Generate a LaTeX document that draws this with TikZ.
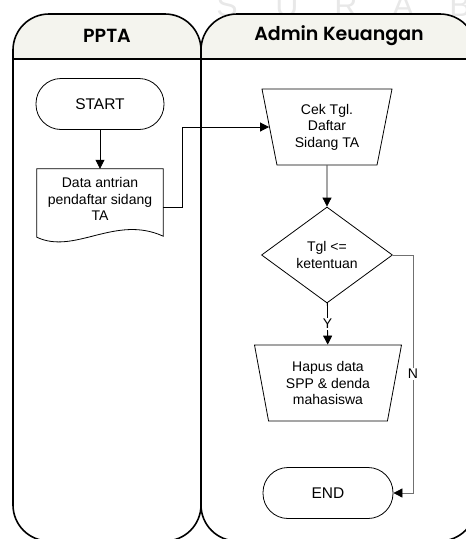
\documentclass[tikz,border=0pt]{standalone}
\usepackage{fontspec}
\setmainfont{Liberation Sans}
\newfontfamily\headfont{Poppins}[UprightFont=* SemiBold]
\newfontfamily\wmfont{Liberation Sans}
\usetikzlibrary{shapes.geometric,arrows.meta,calc}
\definecolor{headbg}{HTML}{F4F4EE}
\definecolor{wm}{HTML}{E8E8E8}
\definecolor{nline}{HTML}{707070}
\begin{document}
\begin{tikzpicture}[x=1pt,y=-1pt,
 lane/.style={line width=1.6pt, rounded corners=36pt},
 txt/.style={font=\fontsize{14}{16.5}\selectfont, align=center},
 term/.style={align=center, font=\fontsize{15.5}{18}\selectfont, draw, line width=0.8pt, rounded corners=25pt, minimum width=128pt, minimum height=51pt},
 manual/.style={txt, draw, line width=0.8pt, trapezium, shape border rotate=180, trapezium left angle=72, trapezium right angle=72, trapezium stretches body, minimum height=76pt, inner sep=0pt},
 decision/.style={txt, draw, diamond, line width=0.8pt, minimum width=131pt, minimum height=96pt, inner sep=0pt},
 conn/.style={line width=0.8pt, -{Triangle[length=9pt,width=9pt,color=black]}},
 lbl/.style={txt, fill=white, inner sep=1pt},
 head/.style={font=\headfont\fontsize{19}{22}\selectfont},
 wmark/.style={font=\wmfont\fontsize{32}{32}\selectfont, text=wm, anchor=base}
]
\useasboundingbox (0,0) rectangle (466,539);
% watermark
\node[wmark] (w1) at (227,16) {S};
\node[wmark] (w2) at (287,16) {U};
\node[wmark] (w3) at (346,16) {R};
\node[wmark] (w4) at (403,16) {A};
\node[wmark] (w5) at (460,16) {B};
% lanes
\begin{scope}
\clip[rounded corners=36pt] (13,14) rectangle (201,541);
\fill[headbg] (13,14) rectangle (201,59);
\end{scope}
\begin{scope}
\clip[rounded corners=36pt] (201,14) rectangle (476,541);
\fill[headbg] (201,14) rectangle (476,59);
\end{scope}
\draw[lane] (13,14) rectangle (201,541);
\draw[lane] (201,14) rectangle (476,541);
\draw[line width=1.6pt] (13,59) -- (476,59);
\node[head] (h1) at (107,36) {PPTA};
\node[head] (h2) at (339,36) {Admin Keuangan};
% nodes
\node[term] (start) at (100,104) {START};
\node[txt, inner sep=0pt, minimum width=126pt, minimum height=60pt] (doc) at (100,199) {Data antrian\\pendaftar sidang\\TA};
\draw[line width=0.8pt] (doc.north west) -- (doc.north east) -- ($(doc.south east)+(0,7)$)
  .. controls ($(doc.south east)+(-48,-15)$) and ($(doc.south west)+(38,26)$) .. ($(doc.south west)+(0,8)$) -- cycle;
\node[manual, minimum width=130pt] (cek) at (327,127) {Cek Tgl.\\Daftar\\Sidang TA};
\node[decision] (dec) at (327,255) {Tgl <=\\ketentuan};
\node[manual, minimum width=147pt] (hapus) at (328,383) {Hapus data\\SPP \& denda\\mahasiswa};
\node[term, minimum width=130pt] (end) at (328,493) {END};
% connectors
\draw[conn] (start) -- (doc);
\draw[conn] ($(doc.east)+(0,8)$) -- ++(19,0) |- (cek.west);
\draw[conn] (cek) -- (dec);
\draw[conn] (dec) -- node[lbl] (ylab) {Y} (hapus);
\draw[conn, draw=nline] (dec.east) -- ++(20,0) |- node[lbl, pos=0.25] (nlab) {N} (end.east);
\end{tikzpicture}
\end{document}
